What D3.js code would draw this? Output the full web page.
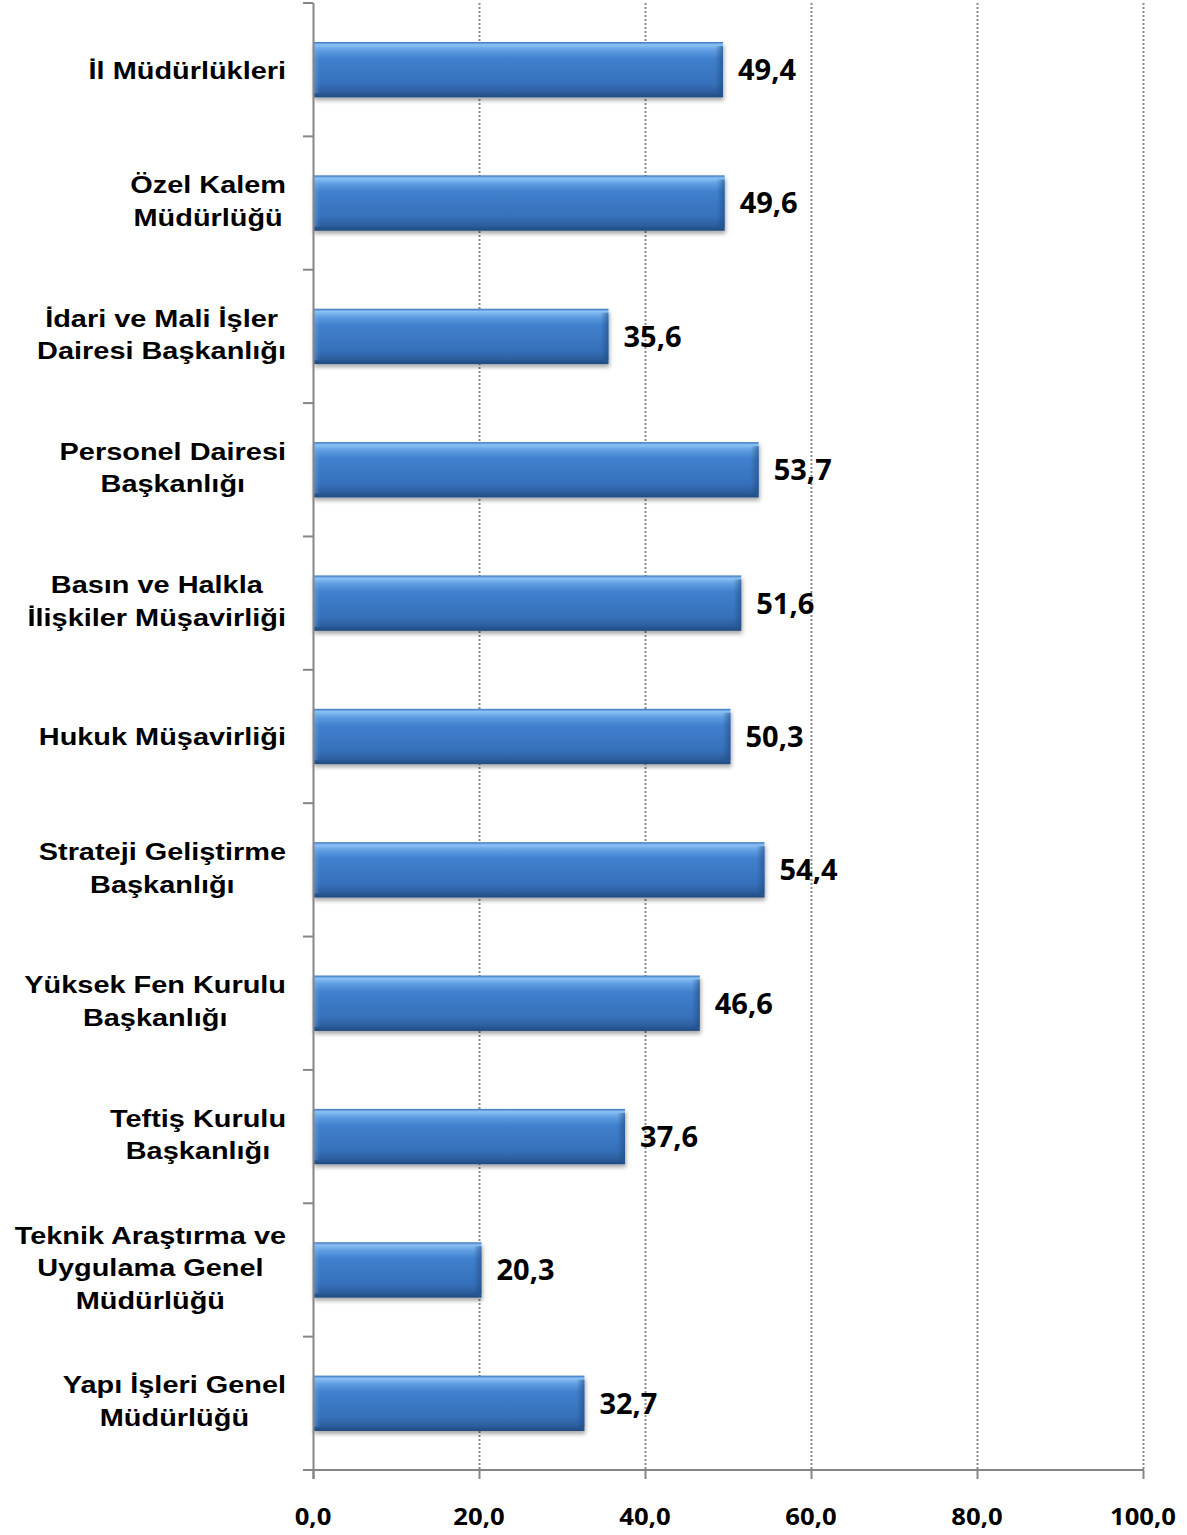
<!DOCTYPE html>
<html>
<head>
<meta charset="utf-8">
<script src="https://cdn.jsdelivr.net/npm/d3@7"></script>
<style>
  html, body { margin: 0; padding: 0; background: #fff; }
  svg { display: block; }
  .cat { font-family: 'Liberation Sans', Arial, Helvetica, sans-serif; font-weight: bold; }
  .num { font-family: 'Open Sans', sans-serif; font-weight: bold; }
</style>
</head>
<body>
<svg id="chart" width="1187" height="1535"></svg>
<script>
// Data
const categories = [
  ["İl Müdürlükleri"],
  ["Özel Kalem", "Müdürlüğü"],
  ["İdari ve Mali İşler ", "Dairesi Başkanlığı"],
  ["Personel Dairesi", "Başkanlığı"],
  ["Basın ve Halkla", "İlişkiler Müşavirliği"],
  ["Hukuk Müşavirliği"],
  ["Strateji Geliştirme", "Başkanlığı"],
  ["Yüksek Fen Kurulu", "Başkanlığı"],
  ["Teftiş Kurulu", "Başkanlığı"],
  ["Teknik Araştırma ve", "Uygulama Genel", "Müdürlüğü"],
  ["Yapı İşleri Genel", "Müdürlüğü"]
];
const values = [49.4, 49.6, 35.6, 53.7, 51.6, 50.3, 54.4, 46.6, 37.6, 20.3, 32.7];
const xTicks = [0, 20, 40, 60, 80, 100];

const fmt = v => v.toFixed(1).replace('.', ',');

const svg = d3.select('#chart');
const plotLeft = 313, plotRight = 1143, plotTop = 3, plotBottom = 1470;

const x = d3.scaleLinear().domain([0, 100]).range([plotLeft, plotRight]);
const y = d3.scaleBand().domain(d3.range(categories.length)).range([plotTop, plotBottom]);
const barH = y.bandwidth() * 0.415;

/* ── Defs: gradient + shadow ─────────────────────────── */
const defs = svg.append('defs');
const grad = defs.append('linearGradient')
  .attr('id', 'barGrad').attr('x1', 0).attr('y1', 0).attr('x2', 0).attr('y2', 1);
[[0, '#3a72bf'], [0.05, '#8cc2f5'], [0.15, '#5e9de2'], [0.3, '#4080cc'],
 [0.75, '#3670ba'], [0.9, '#2d5f9f'], [1, '#1f4a80']]
  .forEach(([o, c]) => grad.append('stop').attr('offset', o).attr('stop-color', c));

const endGrad = defs.append('linearGradient')
  .attr('id', 'endGrad').attr('x1', 0).attr('y1', 0).attr('x2', 1).attr('y2', 0);
endGrad.append('stop').attr('offset', 0).attr('stop-color', '#1f4a80').attr('stop-opacity', 0);
endGrad.append('stop').attr('offset', 1).attr('stop-color', '#1f4a80').attr('stop-opacity', 0.6);

const startGrad = defs.append('linearGradient')
  .attr('id', 'startGrad').attr('x1', 0).attr('y1', 0).attr('x2', 1).attr('y2', 0);
startGrad.append('stop').attr('offset', 0).attr('stop-color', '#7fb4ec').attr('stop-opacity', 0.5);
startGrad.append('stop').attr('offset', 1).attr('stop-color', '#7fb4ec').attr('stop-opacity', 0);

const shadow = defs.append('filter').attr('id', 'shadow')
  .attr('x', '-5%').attr('y', '-20%').attr('width', '110%').attr('height', '150%');
shadow.append('feGaussianBlur').attr('in', 'SourceAlpha').attr('stdDeviation', 2).attr('result', 'b');
shadow.append('feOffset').attr('in', 'b').attr('dx', 1).attr('dy', 3).attr('result', 'o');
shadow.append('feComponentTransfer').attr('in', 'o').attr('result', 'o2')
  .append('feFuncA').attr('type', 'linear').attr('slope', 0.35);
const merge = shadow.append('feMerge');
merge.append('feMergeNode').attr('in', 'o2');
merge.append('feMergeNode').attr('in', 'SourceGraphic');

/* ── Gridlines ───────────────────────────────────────── */
svg.append('g')
  .selectAll('line')
  .data(xTicks.filter(d => d > 0))
  .join('line')
  .attr('x1', d => x(d) + 0.5).attr('x2', d => x(d) + 0.5)
  .attr('y1', plotTop).attr('y2', plotBottom)
  .attr('stroke', '#8a8a8a').attr('stroke-width', 2)
  .attr('stroke-dasharray', '2,2');

/* ── Bars ────────────────────────────────────────────── */
const barY = i => y(i) + (y.bandwidth() - barH) / 2;
const bars = svg.append('g').selectAll('g')
  .data(values)
  .join('g')
  .attr('filter', 'url(#shadow)');

bars.append('rect')
  .attr('x', x(0))
  .attr('y', (d, i) => barY(i))
  .attr('width', d => x(d) - x(0))
  .attr('height', barH)
  .attr('fill', 'url(#barGrad)');

bars.append('rect')
  .attr('x', x(0))
  .attr('y', (d, i) => barY(i) + 4)
  .attr('width', 7)
  .attr('height', barH - 8)
  .attr('fill', 'url(#startGrad)');

bars.append('rect')
  .attr('x', d => x(d) - 8)
  .attr('y', (d, i) => barY(i) + 4)
  .attr('width', 8)
  .attr('height', barH - 8)
  .attr('fill', 'url(#endGrad)');

/* ── Value labels ────────────────────────────────────── */
svg.append('g').selectAll('text')
  .data(values)
  .join('text')
  .attr('class', 'num')
  .attr('x', d => x(d) + 15)
  .attr('y', (d, i) => y(i) + y.bandwidth() / 2)
  .attr('dy', '0.36em')
  .attr('font-size', 29)
  .attr('fill', '#000')
  .text(fmt);

/* ── Axes ────────────────────────────────────────────── */
const axisColor = '#868686';
const axisG = svg.append('g');
axisG.append('line')
  .attr('x1', plotLeft + 0.5).attr('x2', plotLeft + 0.5)
  .attr('y1', plotTop).attr('y2', plotBottom + 9)
  .attr('stroke', axisColor).attr('stroke-width', 2);
axisG.append('line')
  .attr('x1', plotLeft - 10).attr('x2', plotRight + 1)
  .attr('y1', plotBottom).attr('y2', plotBottom)
  .attr('stroke', axisColor).attr('stroke-width', 2);

const bounds = d3.range(categories.length + 1).map(i => i < categories.length ? y(i) : plotBottom);
axisG.selectAll('line.ytick')
  .data(bounds)
  .join('line')
  .attr('class', 'ytick')
  .attr('x1', plotLeft - 10).attr('x2', plotLeft)
  .attr('y1', d => d).attr('y2', d => d)
  .attr('stroke', axisColor).attr('stroke-width', 2);

axisG.selectAll('line.xtick')
  .data(xTicks)
  .join('line')
  .attr('class', 'xtick')
  .attr('x1', d => x(d) + 0.5).attr('x2', d => x(d) + 0.5)
  .attr('y1', plotBottom).attr('y2', plotBottom + 9)
  .attr('stroke', axisColor).attr('stroke-width', 2);

axisG.selectAll('text.xlabel')
  .data(xTicks)
  .join('text')
  .attr('class', 'xlabel num')
  .attr('transform', d => `translate(${x(d)},1525) scale(1.07,1)`)
  .attr('text-anchor', 'middle')
  .attr('font-size', 24)
  .text(fmt);

/* ── Category labels (centered block, right-aligned, stretched) ─── */
const lineH = 32.5, labelRight = 286, stretch = 1.17, catSize = 24.7;
const catG = svg.append('g');
categories.forEach((lines, i) => {
  const g = catG.append('g');
  const cy = y(i) + y.bandwidth() / 2 - (lines.length > 1 ? 2.5 : 0);
  const texts = lines.map((s, k) => g.append('text')
    .attr('class', 'cat')
    .attr('x', 0)
    .attr('dy', '0.36em')
    .attr('text-anchor', 'middle')
    .attr('font-size', catSize)
    .attr('fill', '#000')
    .text(s)
    .datum(cy + (k - (lines.length - 1) / 2) * lineH));
  const maxW = d3.max(texts, t => t.node().getComputedTextLength()) * stretch;
  texts.forEach(t => t.attr('transform',
    `translate(${labelRight - maxW / 2},${t.datum()}) scale(${stretch},1)`));
});
</script>
</body>
</html>
